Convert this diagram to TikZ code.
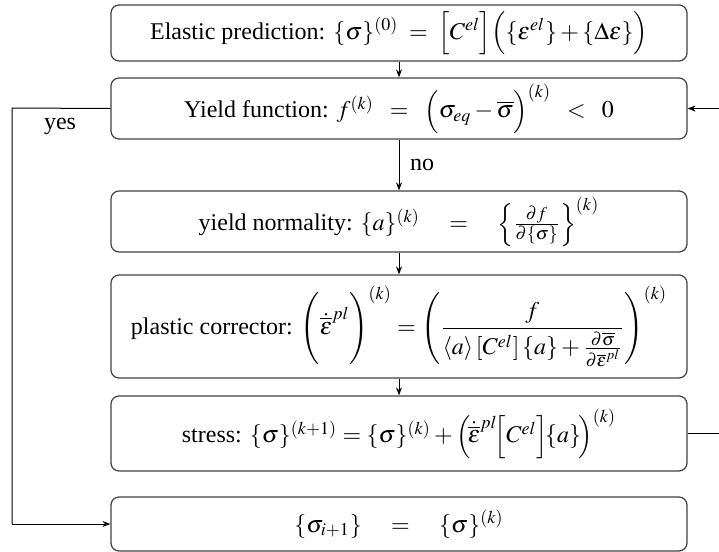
\documentclass[tikz,border=0pt]{standalone}
\usepackage{amsmath}
\usepackage{mathptmx}
\usepackage{fontspec}
\setmainfont{Liberation Serif}
\usetikzlibrary{arrows.meta}
\begin{document}
\begin{tikzpicture}[x=0.5pt,y=-0.5pt,
  txt/.style={font=\fontsize{12}{14}\selectfont},
  box/.style={txt,draw=black!75,line width=0.6pt,rounded corners=4pt,minimum width=288pt,inner sep=0pt},
  conn/.style={line width=0.5pt,-{Stealth[length=4pt,width=3pt]}},
  plain/.style={line width=0.5pt}]
\useasboundingbox (0,0) rectangle (719,552);
\node[box,minimum height=28pt] (b1) at (399,33)
  {Elastic prediction: $\{\sigma\}^{(0)} \;=\; \Big[C^{el}\Big]\Big(\{\varepsilon^{el}\}+\{\Delta\varepsilon\}\Big)$};
\node[box,minimum height=30.5pt] (b2) at (399,108.5)
  {Yield function: $f^{(k)} \;\;=\;\; \Big(\sigma_{eq}-\overline{\sigma}\Big)^{(k)} \;\;<\;\; 0$};
\node[box,minimum height=30.5pt] (b3) at (399,221.5)
  {yield normality: $\{a\}^{(k)} \quad=\quad \Big\{\tfrac{\partial f}{\partial\{\sigma\}}\Big\}^{(k)}$};
\node[box,minimum height=51.5pt] (b4) at (399,326.5)
  {plastic corrector: $\Bigg(\dot{\overline{\varepsilon}}^{pl}\Bigg)^{(k)} = \left(\dfrac{f}{\langle a\rangle\,[C^{el}]\,\{a\}+\frac{\partial\overline{\sigma}}{\partial\overline{\varepsilon}^{pl}}}\right)^{(k)}$};
\node[box,minimum height=37.5pt] (b5) at (399,433.5)
  {stress: $\{\sigma\}^{(k+1)} = \{\sigma\}^{(k)}+\Big(\!\dot{\overline{\varepsilon}}^{pl}\!\Big[C^{el}\Big]\!\{a\}\!\Big)^{(k)}$};
\node[box,minimum height=27pt] (b6) at (399,524)
  {$\{\sigma_{i+1}\} \quad=\quad \{\sigma\}^{(k)}$};
\coordinate (l1) at (12,108);
\coordinate (l2) at (12,524);
\coordinate (r1) at (722,433.5);
\coordinate (r2) at (722,108.5);
\draw[conn] (b1) -- (b2);
\draw[conn] (b2) -- node[txt,right,xshift=2pt]{no} (b3);
\draw[conn] (b3) -- (b4);
\draw[conn] (b4) -- (b5);
\draw[plain] (b2.west) -- (l1) -- (l2);
\draw[conn] (l2) -- (b6.west);
\node[txt] (yes) at (60,126) {yes};
\draw[conn] (b5.east) -- (r1) -- (r2) -- (b2.east);
\end{tikzpicture}
\end{document}
